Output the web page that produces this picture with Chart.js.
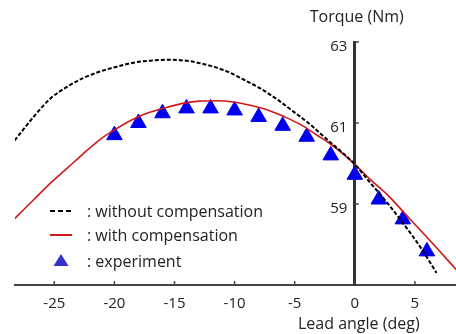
<!DOCTYPE html>
<html>
<head>
<meta charset="utf-8">
<script src="https://cdn.jsdelivr.net/npm/chart.js@4.4.1/dist/chart.umd.min.js"></script>
<style>
  html, body { margin: 0; padding: 0; background: #fff; }
</style>
</head>
<body>
<canvas id="torqueChart" width="456" height="334"></canvas>
<script>
// lead angle (deg) / torque (Nm)
const angleWithout = [-28.3, -26.7, -25.3, -23.9, -22.6, -21.2, -19.8, -18.4, -17.0, -15.6, -14.5, -13.4, -12.0, -10.6, -9.3, -7.9, -6.5, -5.1, -3.7, -2.3, -1.0, -0.1, 1.3, 2.7, 4.0, 5.4, 6.8];
const torqueWithout = [60.57, 61.16, 61.61, 61.90, 62.11, 62.27, 62.39, 62.49, 62.54, 62.56, 62.55, 62.51, 62.41, 62.27, 62.08, 61.86, 61.59, 61.28, 60.96, 60.59, 60.26, 60.01, 59.52, 59.03, 58.53, 57.96, 57.30];

const angleWith = [-28.3, -26.7, -25.3, -23.9, -22.6, -21.2, -20.0, -18.4, -17.0, -15.6, -14.2, -12.9, -11.5, -10.1, -8.7, -7.3, -5.9, -4.5, -3.2, -2.1, -0.1, 1.3, 2.7, 4.0, 5.4, 6.8, 8.5];
const torqueWith = [58.64, 59.11, 59.52, 59.89, 60.24, 60.59, 60.83, 61.10, 61.27, 61.39, 61.49, 61.54, 61.55, 61.52, 61.44, 61.33, 61.16, 60.96, 60.71, 60.50, 60.01, 59.60, 59.23, 58.82, 58.37, 57.92, 57.36];

const angleExp = [-20, -18, -16, -14, -12, -10, -8, -6, -4, -2, 0, 2, 4, 6];
const torqueExp = [60.70, 61.00, 61.24, 61.36, 61.36, 61.31, 61.15, 60.93, 60.66, 60.20, 59.72, 59.11, 58.62, 57.83];

const xTicks = [-25, -20, -15, -10, -5, 0, 5];
const yTicks = [59, 61, 63];
const legendLabels = [': without compensation', ': with compensation', ': experiment'];
const xTitle = 'Lead angle (deg)';
const yTitle = 'Torque (Nm)';

function pairs(xs, ys) {
    return xs.map(function (x, i) { return { x: x, y: ys[i] }; });
}

const textFont = '"Open Sans", "Noto Sans", sans-serif';

// axis titles next to the zero line, inward tick marks, legend inside the plot
const annotations = {
    id: 'annotations',
    afterDraw: function (chart) {
        const ctx = chart.ctx;
        const xs = chart.scales.x;
        const ys = chart.scales.y;
        const x0 = xs.getPixelForValue(0);
        ctx.save();
        ctx.fillStyle = '#222';
        ctx.font = '16px ' + textFont;
        ctx.textAlign = 'center';
        ctx.textBaseline = 'middle';
        ctx.fillText(yTitle, x0 + 2, 17);
        ctx.fillText(xTitle, x0 + 4, 324);

        ctx.strokeStyle = '#444';
        ctx.lineWidth = 1.5;
        yTicks.forEach(function (v) {
            const py = ys.getPixelForValue(v);
            ctx.beginPath();
            ctx.moveTo(x0, py);
            ctx.lineTo(x0 + 4, py);
            ctx.stroke();
        });
        xTicks.forEach(function (v) {
            const px = xs.getPixelForValue(v);
            ctx.beginPath();
            ctx.moveTo(px, xs.top);
            ctx.lineTo(px, xs.top - 4);
            ctx.stroke();
        });

        const rows = [211, 235, 261];
        ctx.textAlign = 'left';
        chart.data.datasets.forEach(function (ds, i) {
            const y = rows[i];
            ctx.save();
            if (ds.showLine === false) {
                ctx.fillStyle = '#3333cc';
                ctx.beginPath();
                ctx.moveTo(61, y - 7);
                ctx.lineTo(68.5, y + 5);
                ctx.lineTo(53.5, y + 5);
                ctx.closePath();
                ctx.fill();
            } else {
                ctx.strokeStyle = ds.borderColor;
                ctx.lineWidth = 2;
                ctx.setLineDash(i === 0 ? [5, 3] : []);
                ctx.beginPath();
                ctx.moveTo(50, y);
                ctx.lineTo(72, y);
                ctx.stroke();
            }
            ctx.restore();
            ctx.fillText(legendLabels[i], 87, y + 1);
        });
        ctx.restore();
    }
};

const ctx = document.getElementById('torqueChart').getContext('2d');

const chart = new Chart(ctx, {
    type: 'scatter',
    data: {
        datasets: [{
            label: 'without compensation',
            data: pairs(angleWithout, torqueWithout),
            showLine: true,
            borderColor: '#000000',
            borderWidth: 2,
            borderDash: [4, 2],
            pointRadius: 0,
            cubicInterpolationMode: 'monotone'
        }, {
            label: 'with compensation',
            data: pairs(angleWith, torqueWith),
            showLine: true,
            borderColor: '#d01818',
            borderWidth: 1.6,
            pointRadius: 0,
            cubicInterpolationMode: 'monotone'
        }, {
            label: 'experiment',
            data: pairs(angleExp, torqueExp),
            showLine: false,
            pointStyle: 'triangle',
            pointRadius: 9,
            pointBorderWidth: 1,
            pointBackgroundColor: '#0000f0',
            pointBorderColor: '#0000f0'
        }]
    },
    options: {
        responsive: false,
        animation: false,
        layout: { autoPadding: false, padding: { top: 42, left: 15, right: 0, bottom: 19 } },
        plugins: {
            legend: { display: false },
            tooltip: { enabled: false }
        },
        scales: {
            x: {
                type: 'linear',
                min: -28.27,
                max: 8.42,
                afterBuildTicks: function (scale) {
                    scale.ticks = xTicks.map(function (v) { return { value: v }; });
                },
                afterFit: function (scale) {
                    scale.height = 30;
                    scale.paddingLeft = 0;
                    scale.paddingRight = 0;
                },
                grid: { display: false, drawTicks: false },
                border: { display: true, color: '#444', width: 2 },
                ticks: {
                    padding: 10,
                    color: '#222',
                    font: { family: textFont, size: 15 },
                    callback: function (v) { return String(v); }
                }
            },
            y: {
                type: 'linear',
                min: 57,
                max: 63,
                position: { x: 0 },
                afterBuildTicks: function (scale) {
                    scale.ticks = yTicks.map(function (v) { return { value: v }; });
                },
                afterFit: function (scale) {
                    scale.width = 0;
                    scale.paddingTop = 0;
                    scale.paddingBottom = 0;
                },
                grid: { display: false, drawTicks: false },
                border: { display: true, color: '#333', width: 3 },
                ticks: {
                    labelOffset: 5,
                    color: '#222',
                    font: { family: textFont, size: 15 },
                    callback: function (v) { return v + '\u2002'; }
                }
            }
        }
    },
    plugins: [annotations]
});
</script>
</body>
</html>
